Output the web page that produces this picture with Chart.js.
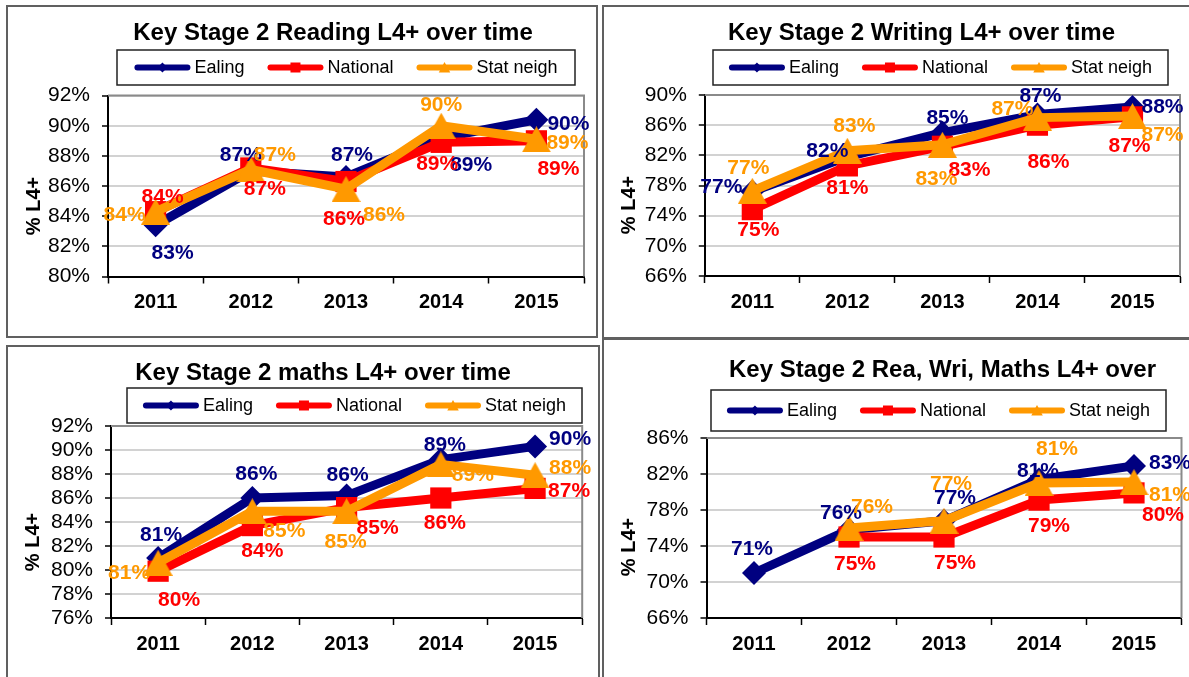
<!DOCTYPE html>
<html>
<head>
<meta charset="utf-8">
<script src="https://cdn.jsdelivr.net/npm/chart.js@4.4.1/dist/chart.umd.min.js"></script>
<style>
html, body { margin:0; padding:0; background:#fff; }
body { width:1189px; height:677px; overflow:hidden; position:relative; }
.panel { position:absolute; border:2px solid #606060; box-sizing:border-box; }
canvas { position:absolute; }
</style>
</head>
<body>
<div class="panel" style="left:6px;top:5px;width:592px;height:333px"></div>
<div class="panel" style="left:602px;top:5px;width:620px;height:334px"></div>
<div class="panel" style="left:6px;top:345px;width:594px;height:360px"></div>
<div class="panel" style="left:602px;top:338px;width:620px;height:360px"></div>
<canvas id="cReading"></canvas>
<canvas id="cWriting"></canvas>
<canvas id="cMaths"></canvas>
<canvas id="cRwm"></canvas>
<script>
// ---------------- DATA ----------------
const YEARS = ['2011', '2012', '2013', '2014', '2015'];
const SERIES_NAMES = ['Ealing', 'National', 'Stat neigh'];
const Y_AXIS_TITLE = '% L4+';

const READING_TITLE = 'Key Stage 2 Reading L4+ over time';
const READING_EALING   = [83.4, 87.0, 86.6, 89.2, 90.4];
const READING_NATIONAL = [84.3, 87.2, 86.3, 88.9, 89.0];
const READING_STAT     = [84.3, 87.1, 85.8, 90.0, 89.1];
const READING_Y_TICKS  = [80, 82, 84, 86, 88, 90, 92];

const WRITING_TITLE = 'Key Stage 2 Writing L4+ over time';
const WRITING_EALING   = [77.2, 81.8, 85.0, 87.4, 88.4];
const WRITING_NATIONAL = [74.8, 80.6, 83.2, 86.0, 87.1];
const WRITING_STAT     = [77.3, 82.6, 83.4, 87.0, 87.2];
const WRITING_Y_TICKS  = [66, 70, 74, 78, 82, 86, 90];

const MATHS_TITLE = 'Key Stage 2 maths L4+ over time';
const MATHS_EALING   = [81.0, 86.0, 86.2, 89.2, 90.3];
const MATHS_NATIONAL = [79.9, 83.7, 85.2, 86.0, 86.8];
const MATHS_STAT     = [80.6, 84.9, 84.9, 88.8, 87.9];
const MATHS_Y_TICKS  = [76, 78, 80, 82, 84, 86, 88, 90, 92];

const RWM_TITLE = 'Key Stage 2 Rea, Wri, Maths L4+ over';
const RWM_EALING   = [71.0, 75.8, 76.8, 81.4, 82.9];
const RWM_NATIONAL = [null, 75.0, 75.0, 79.1, 79.9];
const RWM_STAT     = [null, 76.0, 76.8, 81.0, 81.1];
const RWM_Y_TICKS  = [66, 70, 74, 78, 82, 86];

// ---------------- STYLE / LAYOUT ----------------
const FONT = "'Liberation Sans', Arial, Helvetica, sans-serif";
const LINE_COLORS  = ['#000080', '#FF0000', '#FF9900'];
const LABEL_COLORS = ['#000080', '#FF0000', '#FF9900'];
const MARKERS = ['diamond', 'square', 'triangle'];

// label offsets (dx, dy) from each point, per series, like hand-placed Excel labels
const READING_LABEL_POS = [
  [[17, 28], [-10, -16], [6, -22], [30, 27], [32, 4]],
  [[7, -14], [14, 21], [-2, 38], [-4, 22], [22, 28]],
  [[-31, 4], [24, -14], [38, 26], [0, -21], [31, 4]]
];
const WRITING_LABEL_POS = [
  [[-31, -4], [-20, -6], [5, -15], [3, -18], [30, 0]],
  [[6, 21], [0, 22], [27, 24], [11, 37], [-3, 29]],
  [[-4, -23], [7, -25], [-6, 34], [-25, -8], [30, 19]]
];
const MATHS_LABEL_POS = [
  [[3, -23], [4, -24], [1, -20], [4, -14], [35, -7]],
  [[21, 29], [10, 26], [31, 21], [4, 25], [34, 3]],
  [[-29, 10], [32, 20], [-1, 31], [32, 11], [35, -7]]
];
const RWM_LABEL_POS = [
  [[-2, -24], [-8, -17], [11, -23], [-1, -8], [36, -3]],
  [[0, 0], [6, 27], [11, 26], [10, 26], [29, 22]],
  [[0, 0], [23, -21], [7, -37], [18, -34], [36, 13]]
];

const PANELS = [
  { id:'cReading', title:READING_TITLE, series:[READING_EALING, READING_NATIONAL, READING_STAT], yTicks:READING_Y_TICKS, labelPos:READING_LABEL_POS,
    canvas:{x:8, y:7, w:588, h:329}, plot:{l:108, r:584, t:95.6, b:276.5},
    titlePos:{x:333, y:33}, legend:{x1:117, x2:575, y1:50, y2:85}, yTitlePos:{x:34, y:206} },
  { id:'cWriting', title:WRITING_TITLE, series:[WRITING_EALING, WRITING_NATIONAL, WRITING_STAT], yTicks:WRITING_Y_TICKS, labelPos:WRITING_LABEL_POS,
    canvas:{x:604, y:7, w:585, h:330}, plot:{l:704.8, r:1180, t:95, b:276},
    titlePos:{x:921.5, y:33}, legend:{x1:713, x2:1168, y1:50, y2:85}, yTitlePos:{x:629, y:205} },
  { id:'cMaths', title:MATHS_TITLE, series:[MATHS_EALING, MATHS_NATIONAL, MATHS_STAT], yTicks:MATHS_Y_TICKS, labelPos:MATHS_LABEL_POS,
    canvas:{x:8, y:347, w:590, h:330}, plot:{l:111, r:582.2, t:426, b:618},
    titlePos:{x:323, y:373}, legend:{x1:127, x2:582, y1:388, y2:423}, yTitlePos:{x:33.5, y:542} },
  { id:'cRwm', title:RWM_TITLE, series:[RWM_EALING, RWM_NATIONAL, RWM_STAT], yTicks:RWM_Y_TICKS, labelPos:RWM_LABEL_POS,
    canvas:{x:604, y:340, w:585, h:337}, plot:{l:706.5, r:1181.5, t:438, b:618},
    titlePos:{x:942.5, y:370}, legend:{x1:711, x2:1166, y1:390, y2:431}, yTitlePos:{x:629, y:547} }
];

const X_AXIS_H = 44;

function makeTriangle(color, w, h) {
  const c = document.createElement('canvas');
  c.width = w; c.height = h;
  const g = c.getContext('2d');
  g.fillStyle = color;
  g.beginPath(); g.moveTo(w / 2, 0); g.lineTo(w, h); g.lineTo(0, h); g.closePath(); g.fill();
  return c;
}

function drawMarker(ctx, kind, x, y, color, s) {
  ctx.fillStyle = color;
  ctx.beginPath();
  if (kind === 'diamond') {
    ctx.moveTo(x, y - s); ctx.lineTo(x + s, y); ctx.lineTo(x, y + s); ctx.lineTo(x - s, y);
  } else if (kind === 'square') {
    ctx.rect(x - s, y - s, 2 * s, 2 * s);
  } else {
    ctx.moveTo(x, y - s * 1.1); ctx.lineTo(x + s * 1.15, y + s); ctx.lineTo(x - s * 1.15, y + s);
  }
  ctx.closePath();
  ctx.fill();
}

function makeChart(P) {
  const cv = document.getElementById(P.id);
  const C = P.canvas, A = P.plot;
  cv.width = C.w; cv.height = C.h;
  cv.style.left = C.x + 'px'; cv.style.top = C.y + 'px';
  cv.style.width = C.w + 'px'; cv.style.height = C.h + 'px';
  const yMin = P.yTicks[0], yMax = P.yTicks[P.yTicks.length - 1];

  const decor = {
    id: 'excelDecor',
    beforeDatasetsDraw(chart) {
      const ctx = chart.ctx, a = chart.chartArea;
      ctx.save();
      ctx.strokeStyle = '#8a8a8a'; ctx.lineWidth = 2;
      ctx.beginPath();
      ctx.moveTo(a.left, a.top); ctx.lineTo(a.right, a.top); ctx.lineTo(a.right, a.bottom);
      ctx.stroke();
      ctx.restore();
    },
    afterDatasetsDraw(chart) {
      const ctx = chart.ctx;
      ctx.save();
      ctx.font = 'bold 21px ' + FONT;
      ctx.textAlign = 'center'; ctx.textBaseline = 'middle';
      chart.data.datasets.forEach((ds, i) => {
        const meta = chart.getDatasetMeta(i);
        meta.data.forEach((pt, j) => {
          const v = ds.data[j];
          if (v === null || v === undefined) return;
          const off = P.labelPos[i][j];
          ctx.fillStyle = LABEL_COLORS[i];
          ctx.fillText(Math.round(v) + '%', pt.x + off[0], pt.y + off[1]);
        });
      });
      ctx.restore();
    },
    afterDraw(chart) {
      const ctx = chart.ctx;
      ctx.save();
      // title
      ctx.fillStyle = '#000';
      ctx.font = 'bold 24px ' + FONT;
      ctx.textAlign = 'center'; ctx.textBaseline = 'middle';
      ctx.fillText(P.title, P.titlePos.x - C.x, P.titlePos.y - C.y);
      // y axis title
      ctx.save();
      ctx.translate(P.yTitlePos.x - C.x, P.yTitlePos.y - C.y);
      ctx.rotate(-Math.PI / 2);
      ctx.font = 'bold 20px ' + FONT;
      ctx.fillText(Y_AXIS_TITLE, 0, 0);
      ctx.restore();
      // legend
      const L = P.legend;
      const x1 = L.x1 - C.x, x2 = L.x2 - C.x, y1 = L.y1 - C.y, y2 = L.y2 - C.y;
      ctx.strokeStyle = '#222'; ctx.lineWidth = 1.5;
      ctx.strokeRect(x1, y1, x2 - x1, y2 - y1);
      ctx.font = '18px ' + FONT;
      const LINE = 56, GT = 4, GI = 23;
      const items = chart.data.datasets.map((ds, i) => ({ ds, i, w: ctx.measureText(ds.label).width }));
      const total = items.reduce((s, it) => s + LINE + GT + it.w, 0) + GI * (items.length - 1);
      let x = (x1 + x2) / 2 - total / 2;
      const cy = (y1 + y2) / 2;
      items.forEach(it => {
        ctx.strokeStyle = LINE_COLORS[it.i]; ctx.lineWidth = 6; ctx.lineCap = 'round';
        ctx.beginPath(); ctx.moveTo(x + 3, cy); ctx.lineTo(x + LINE - 3, cy); ctx.stroke();
        drawMarker(ctx, MARKERS[it.i], x + LINE / 2, cy, LINE_COLORS[it.i], 5);
        ctx.fillStyle = '#000'; ctx.textAlign = 'left'; ctx.textBaseline = 'middle';
        ctx.fillText(it.ds.label, x + LINE + GT, cy + 1);
        x += LINE + GT + it.w + GI;
      });
      ctx.restore();
    }
  };

  const pointStyles = ['rectRot', 'rect', makeTriangle(LINE_COLORS[2], 29, 26)];
  const pointRadii = [12, 15, 14];
  const drawOrder = [2, 1, 0];

  return new Chart(cv, {
    type: 'line',
    data: {
      labels: YEARS,
      datasets: P.series.map((vals, i) => ({
        label: SERIES_NAMES[i],
        data: vals,
        order: drawOrder[i],
        borderColor: LINE_COLORS[i],
        backgroundColor: LINE_COLORS[i],
        borderWidth: 9,
        borderJoinStyle: 'round',
        borderCapStyle: 'round',
        tension: 0,
        fill: false,
        spanGaps: false,
        clip: false,
        pointStyle: pointStyles[i],
        pointRadius: pointRadii[i],
        pointHoverRadius: pointRadii[i],
        pointBackgroundColor: LINE_COLORS[i],
        pointBorderColor: LINE_COLORS[i],
        pointBorderWidth: 0
      }))
    },
    options: {
      responsive: false,
      animation: false,
      events: [],
      layout: {
        autoPadding: false,
        padding: { left: 0, top: A.t - C.y, right: C.x + C.w - A.r, bottom: C.y + C.h - A.b - X_AXIS_H }
      },
      plugins: { legend: { display: false }, title: { display: false }, tooltip: { enabled: false } },
      scales: {
        x: {
          type: 'category',
          offset: true,
          grid: { display: true, drawOnChartArea: false, drawTicks: true, tickLength: 7, tickColor: '#000', tickWidth: 1.5, offset: true },
          border: { display: true, color: '#000', width: 2 },
          ticks: { color: '#000', font: { family: FONT, size: 20, weight: 'bold' }, padding: 7, maxRotation: 0, autoSkip: false },
          afterFit(s) { s.height = X_AXIS_H; }
        },
        y: {
          min: yMin, max: yMax,
          afterBuildTicks(s) { s.ticks = P.yTicks.map(v => ({ value: v })); },
          ticks: { color: '#000', font: { family: FONT, size: 21 }, padding: 12, autoSkip: false, callback: v => v + '%' },
          grid: {
            color: c => (c.tick && c.tick.value === yMin) ? 'rgba(0,0,0,0)' : '#d2d2d2',
            lineWidth: 2, drawTicks: true, tickLength: 6, tickColor: '#000', tickWidth: 1.5
          },
          border: { display: true, color: '#000', width: 2 },
          afterFit(s) { s.width = A.l - C.x; }
        }
      }
    },
    plugins: [decor]
  });
}

PANELS.forEach(makeChart);
</script>
</body>
</html>
